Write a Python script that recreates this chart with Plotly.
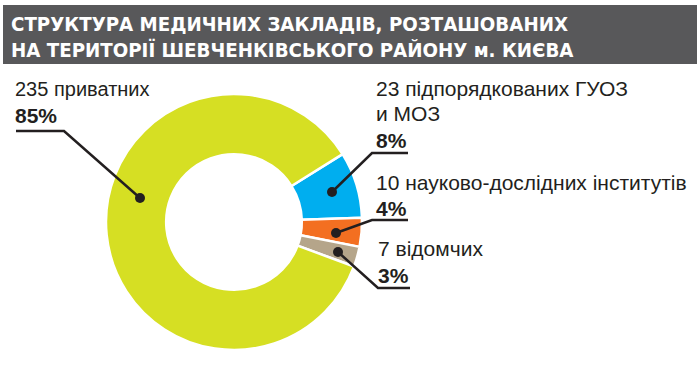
import plotly.graph_objects as go

# Data
categories = ["підпорядкованих ГУОЗ и МОЗ", "науково-дослідних інститутів", "відомчих", "приватних"]
counts = [23, 10, 7, 235]
percents = ["8%", "4%", "3%", "85%"]
colors = ["#00aeef", "#f36f21", "#b5a58a", "#d6df23"]
label_lines = [
    ["23 підпорядкованих ГУОЗ", "и МОЗ"],
    ["10 науково-дослідних інститутів"],
    ["7 відомчих"],
    ["235 приватних"],
]
title_lines = ["СТРУКТУРА МЕДИЧНИХ ЗАКЛАДІВ, РОЗТАШОВАНИХ",
               "НА ТЕРИТОРІЇ ШЕВЧЕНКІВСЬКОГО РАЙОНУ м. КИЄВА"]

W, H = 700, 374
ink = "#231f20"

fig = go.Figure()
# invisible trace to create the pixel-space axes used by annotations/shapes
fig.add_trace(go.Scatter(x=[0, W], y=[0, H], mode="markers", marker=dict(opacity=0),
                         hoverinfo="skip", showlegend=False))
fig.add_trace(go.Pie(
    values=counts, labels=categories, sort=False, direction="clockwise",
    rotation=58, hole=0.53, textinfo="none", hoverinfo="label+value",
    marker=dict(colors=colors, line=dict(color="white", width=2.5)),
    domain=dict(x=[106 / W, 362 / W], y=[(H - 350) / H, (H - 94) / H]),
    showlegend=False,
))

fig.update_xaxes(range=[0, W], visible=False, fixedrange=True)
fig.update_yaxes(range=[H, 0], visible=False, fixedrange=True)

shapes = []
annotations = []
# title bar
shapes.append(dict(type="rect", x0=3, x1=697, y0=5, y1=64, fillcolor="#58585a",
                   line=dict(width=0), layer="above"))
for i, t in enumerate(title_lines):
    annotations.append(dict(x=9, y=24 + i * 26, text="<b>%s</b>" % t, showarrow=False,
                            xanchor="left", yanchor="middle",
                            font=dict(family="DejaVu Sans Condensed", size=20.3, color="white")))

lay = [
    dict(tx=374, ty=[88, 113], py=140, ly=153, lx0=372, lx1=408, dx=332, dy=192, ex=372, fs=21),
    dict(tx=374, ty=[182], py=208, ly=220, lx0=372, lx1=408, dx=336, dy=233, ex=372, fs=21),
    dict(tx=376, ty=[248], py=275, ly=288, lx0=378, lx1=410, dx=338, dy=252, ex=378, fs=21),
    dict(tx=13, ty=[89], py=115, ly=131, lx0=16, lx1=64, dx=140, dy=198, ex=64, fs=20),
]
for i, L in enumerate(lay):
    for j, line in enumerate(label_lines[i]):
        annotations.append(dict(x=L["tx"], y=L["ty"][j], text=line, showarrow=False,
                                xanchor="left", yanchor="middle",
                                font=dict(family="Liberation Sans", size=L["fs"], color=ink)))
    annotations.append(dict(x=L["tx"], y=L["py"], text="<b>%s</b>" % percents[i], showarrow=False,
                            xanchor="left", yanchor="middle",
                            font=dict(family="Liberation Sans", size=21, color=ink)))
    far = L["lx1"] if L["ex"] == L["lx0"] else L["lx0"]
    shapes.append(dict(type="path",
                       path="M %d %d L %d %d L %d %d" % (far, L["ly"], L["ex"], L["ly"], L["dx"], L["dy"]),
                       line=dict(color=ink, width=2.5), layer="above"))
    shapes.append(dict(type="circle", x0=L["dx"] - 5, x1=L["dx"] + 5, y0=L["dy"] - 5, y1=L["dy"] + 5,
                       fillcolor=ink, line=dict(width=0), layer="above"))

fig.update_layout(
    width=W, height=H, margin=dict(l=0, r=0, t=0, b=0),
    paper_bgcolor="white", plot_bgcolor="rgba(0,0,0,0)",
    shapes=shapes, annotations=annotations,
)
fig.write_html("out.html", config={"displayModeBar": False},
               post_script="document.body.style.margin='0';")
